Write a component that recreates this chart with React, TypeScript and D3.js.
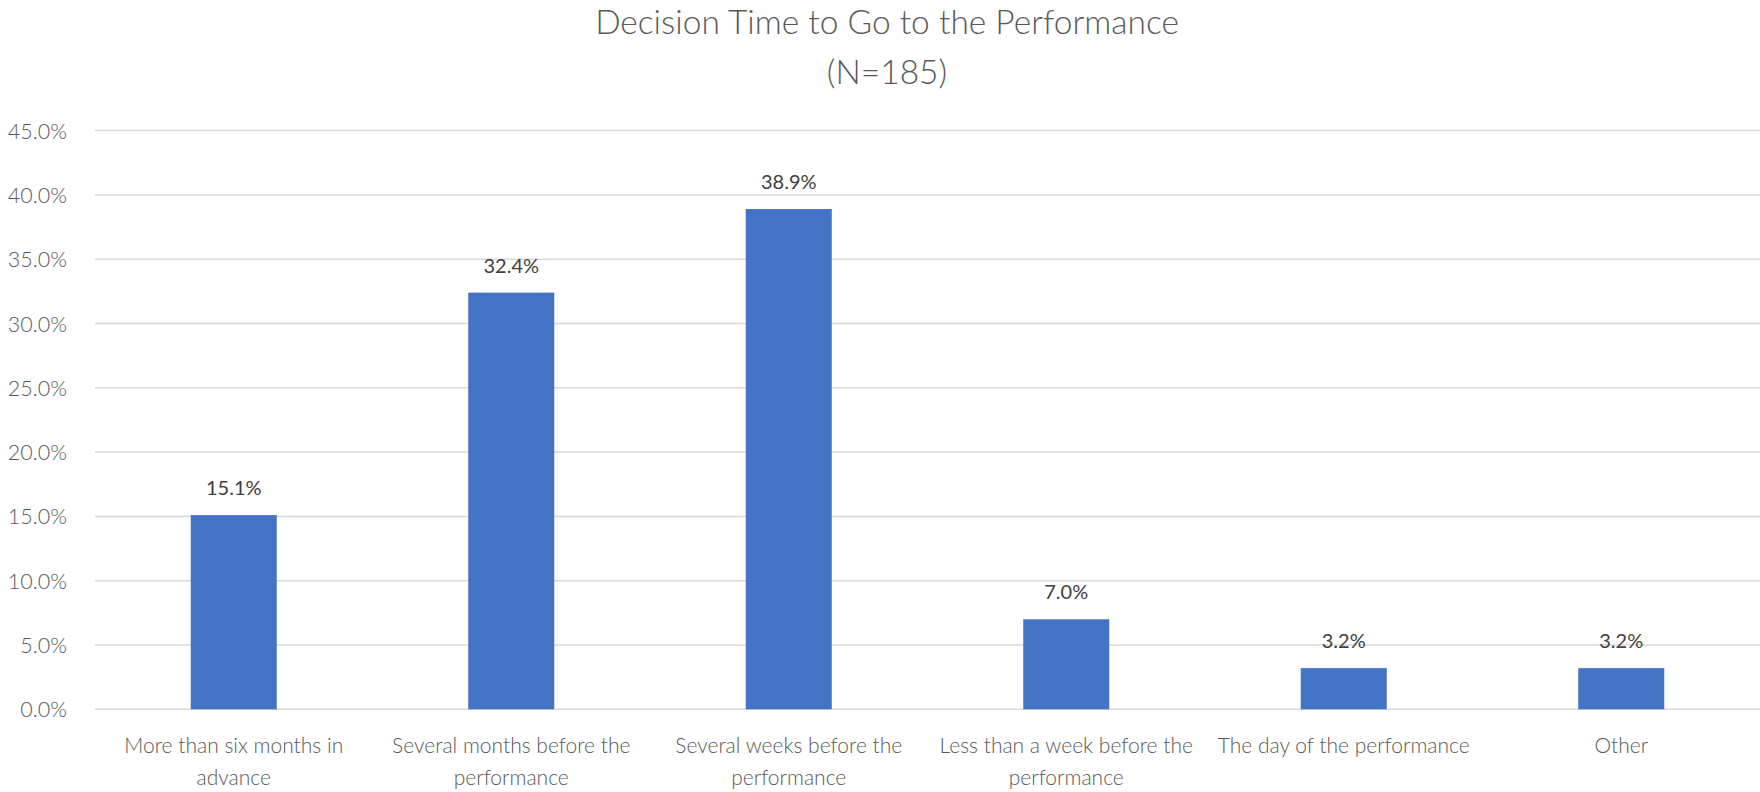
import React from "react";
import * as d3 from "d3";

const categories: string[][] = [
  ["More than six months in", "advance"],
  ["Several months before the", "performance"],
  ["Several weeks before the", "performance"],
  ["Less than a week before the", "performance"],
  ["The day of the performance"],
  ["Other"],
];
const values: number[] = [15.1, 32.4, 38.9, 7.0, 3.2, 3.2];
const yTicks: number[] = [0, 5, 10, 15, 20, 25, 30, 35, 40, 45];
const titleLines: string[] = ["Decision Time to Go to the Performance", "(N=185)"];

const W = 1760;
const H = 792;
const FONT = "Lato, 'Open Sans', sans-serif";

export default function App() {
  const left = 95;
  const right = 1760;
  const top = 130.6;
  const bottom = 709.3;
  const x = d3
    .scaleBand<number>()
    .domain(d3.range(values.length))
    .range([left, right])
    .paddingInner(0.69)
    .paddingOuter(0.345);
  const y = d3.scaleLinear().domain([0, 45]).range([bottom, top]);
  const fmt = (v: number) => v.toFixed(1) + "%";

  return (
    <div style={{ position: "absolute", left: 0, top: 0 }}>
      <svg width={W} height={H} style={{ display: "block", background: "#fff" }}>
        {titleLines.map((t, i) => (
          <text
            key={i}
            x={887}
            y={21 + i * 50}
            textAnchor="middle"
            dominantBaseline="central"
            fontFamily={FONT}
            fontSize={33.5}
            fontWeight={300}
            fill="#595959"
          >
            {t}
          </text>
        ))}
        {yTicks.map((t) => (
          <g key={t}>
            <line x1={left} x2={right} y1={y(t)} y2={y(t)} stroke="#d9d9d9" strokeWidth={1.5} />
            <text
              x={67}
              y={y(t)}
              textAnchor="end"
              dominantBaseline="central"
              fontFamily={FONT}
              fontSize={21.5}
              fontWeight={300}
              fill="#595959"
            >
              {fmt(t)}
            </text>
          </g>
        ))}
        {values.map((v, i) => (
          <g key={i}>
            <rect
              x={x(i)!}
              y={y(v)}
              width={x.bandwidth()}
              height={y(0) - y(v)}
              fill="#4472C4"
            />
            <text
              x={x(i)! + x.bandwidth() / 2}
              y={y(v) - 28}
              textAnchor="middle"
              dominantBaseline="central"
              fontFamily={FONT}
              fontSize={20}
              fontWeight={400}
              fill="#404040"
            >
              {fmt(v)}
            </text>
            {categories[i].map((line, j) => (
              <text
                key={j}
                x={x(i)! + x.bandwidth() / 2}
                y={744 + j * 32}
                textAnchor="middle"
                dominantBaseline="central"
                fontFamily={FONT}
                fontSize={21}
                fontWeight={300}
                fill="#595959"
              >
                {line}
              </text>
            ))}
          </g>
        ))}
      </svg>
    </div>
  );
}
